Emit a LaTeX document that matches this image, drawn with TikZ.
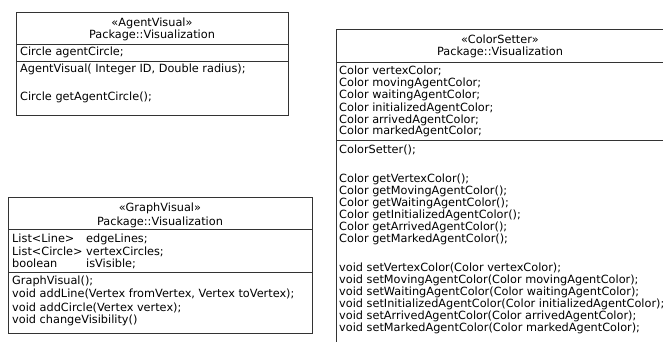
\documentclass[tikz,border=0pt]{standalone}
\usepackage{fontspec}
\setmainfont{DejaVu Sans}
\begin{document}
\begin{tikzpicture}[x=1pt, y=-1pt,
  classbox/.style={draw=black!80, line width=0.9pt, inner sep=0pt, anchor=north west},
  sepline/.style={draw=black!80, line width=0.9pt},
  member/.style={anchor=base west, inner sep=0pt, font=\fontsize{11.3}{13}\selectfont},
  title/.style={anchor=base, inner sep=0pt, font=\fontsize{11.3}{13}\selectfont}]
\useasboundingbox (0,0) rectangle (663,342);
\clip (0,0) rectangle (663,342);

% ---------- AgentVisual ----------
\node[classbox, minimum width=272pt, minimum height=103pt] (agent) at (16,12) {};
\draw[sepline] (agent.west |- 0,44) -- (agent.east |- 0,44);
\draw[sepline] (agent.west |- 0,61) -- (agent.east |- 0,61);
\node[title] (agentStereo) at (152,27) {«AgentVisual»};
\node[title] (agentPkg) at (152,39) {Package::Visualization};
\node[member] (agentA1) at (20,56) {Circle agentCircle;};
\node[member] (agentO1) at (20,73) {AgentVisual( Integer ID, Double radius);};
\node[member] (agentO2) at (20,101) {Circle getAgentCircle();};

% ---------- GraphVisual ----------
\node[classbox, minimum width=304pt, minimum height=136pt] (graph) at (8,197) {};
\draw[sepline] (graph.west |- 0,229) -- (graph.east |- 0,229);
\draw[sepline] (graph.west |- 0,272) -- (graph.east |- 0,272);
\node[title] (graphStereo) at (160,211) {«GraphVisual»};
\node[title] (graphPkg) at (160,225) {Package::Visualization};
\node[member] (graphA1) at (12,242) {\makebox[74pt][l]{List<Line>}edgeLines;};
\node[member] (graphA2) at (12,255) {\makebox[74pt][l]{List<Circle>}vertexCircles;};
\node[member] (graphA3) at (12,267) {\makebox[74pt][l]{boolean}isVisible;};
\node[member] (graphO1) at (12,284) {GraphVisual();};
\node[member] (graphO2) at (12,297) {void addLine(Vertex fromVertex, Vertex toVertex);};
\node[member] (graphO3) at (12,311) {void addCircle(Vertex vertex);};
\node[member] (graphO4) at (12,323) {void changeVisibility()};

% ---------- ColorSetter (runs past the right and bottom edges) ----------
\node[classbox, minimum width=329pt, minimum height=371pt] (color) at (336,29) {};
\draw[sepline] (color.west |- 0,62) -- (color.east |- 0,62);
\draw[sepline] (color.west |- 0,140) -- (color.east |- 0,140);
\node[title] (colorStereo) at (500,44) {«ColorSetter»};
\node[title] (colorPkg) at (500,56) {Package::Visualization};
\node[member] (colorA1) at (339,75) {Color vertexColor;};
\node[member] (colorA2) at (339,87) {Color movingAgentColor;};
\node[member] (colorA3) at (339,99) {Color waitingAgentColor;};
\node[member] (colorA4) at (339,111) {Color initializedAgentColor;};
\node[member] (colorA5) at (339,123) {Color arrivedAgentColor;};
\node[member] (colorA6) at (339,135) {Color markedAgentColor;};
\node[member] (colorO1) at (339,153) {ColorSetter();};
\node[member] (colorG1) at (339,182) {Color getVertexColor();};
\node[member] (colorG2) at (339,194) {Color getMovingAgentColor();};
\node[member] (colorG3) at (339,206) {Color getWaitingAgentColor();};
\node[member] (colorG4) at (339,218) {Color getInitializedAgentColor();};
\node[member] (colorG5) at (339,230) {Color getArrivedAgentColor();};
\node[member] (colorG6) at (339,242) {Color getMarkedAgentColor();};
\node[member] (colorS1) at (339,271) {void setVertexColor(Color vertexColor);};
\node[member] (colorS2) at (339,283) {void setMovingAgentColor(Color movingAgentColor);};
\node[member] (colorS3) at (339,295) {void setWaitingAgentColor(Color waitingAgentColor);};
\node[member] (colorS4) at (339,307) {void setInitializedAgentColor(Color initializedAgentColor);};
\node[member] (colorS5) at (339,319) {void setArrivedAgentColor(Color arrivedAgentColor);};
\node[member] (colorS6) at (339,331) {void setMarkedAgentColor(Color markedAgentColor);};
\end{tikzpicture}
\end{document}
